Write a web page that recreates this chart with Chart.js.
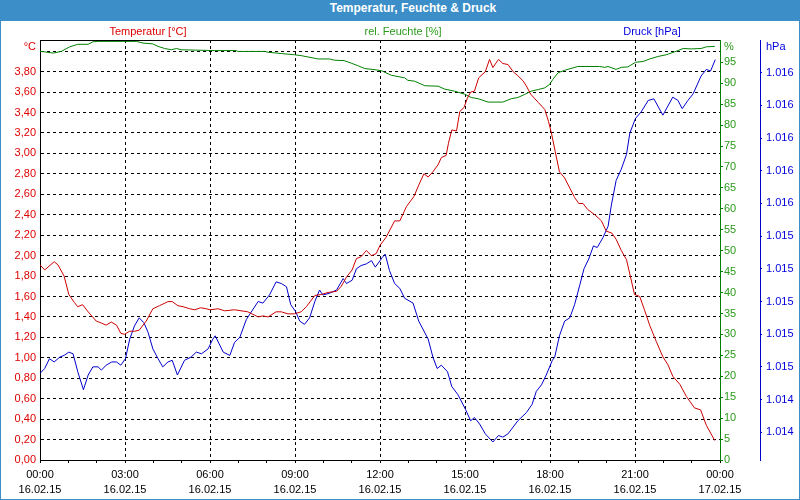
<!DOCTYPE html>
<html>
<head>
<meta charset="utf-8">
<script src="https://cdn.jsdelivr.net/npm/chart.js@4.4.1/dist/chart.umd.min.js"></script>
<style>
  body { margin: 0; background: #fff; }
  #wrap { position: relative; width: 800px; height: 500px; box-sizing: border-box; border: 1px solid #3b8ec8; }
  #title { height: 20px; line-height: 20px; background: #3b8ec8; color: #fff; font: bold 12px "Liberation Sans", Arial, sans-serif; text-align: center; padding-left: 26px; }
  .lbl { position: absolute; top: 24px; font: 11px "Liberation Sans", Arial, sans-serif; transform: translateX(-50%); white-space: nowrap; }
  canvas { display: block; }
</style>
</head>
<body>
<div id="wrap">
  <div id="title">Temperatur, Feuchte &amp; Druck</div>
  <div class="lbl" style="left:147px;color:#dd0000">Temperatur [°C]</div>
  <div class="lbl" style="left:402px;color:#2a9a1a">rel. Feuchte [%]</div>
  <div class="lbl" style="left:651px;color:#0000dd">Druck [hPa]</div>
  <canvas id="chart" width="798" height="478"></canvas>
</div>
<script>
// Zeit in Minuten ab 16.02.15 00:00
const tempTimes = [0,10,30,38,51,61,73,80,90,102,119,130,140,151,162,171,179,190,200,210,225,239,253,271,280,292,303,317,328,340,352,
  360,377,391,412,440,462,472,483,500,511,525,539,553,564,582,596,610,628,638,649,661,670,680,691,702,712,
  720,733,751,762,776,792,802,813,822,832,843,850,860,865,872,882,889,898,905,912,920,929,943,952,959,971,980,991,1002,1012,1023,1030,1039,1055,1069,1077,
  1083,1091,1100,1111,1122,1132,1141,1150,1160,1175,1189,1199,1211,1220,1231,1242,1251,1259,1270,1280,1291,1305,1319,1330,1340,1355,1369,1386,1399,1411,1429];
const tempValues = [1.91,1.86,1.94,1.91,1.80,1.62,1.54,1.50,1.52,1.45,1.36,1.34,1.32,1.35,1.32,1.24,1.23,1.26,1.26,1.27,1.36,1.48,1.51,1.55,1.55,1.51,1.50,1.48,1.47,1.49,1.48,
  1.47,1.48,1.46,1.47,1.45,1.40,1.41,1.40,1.45,1.45,1.43,1.43,1.45,1.50,1.61,1.62,1.64,1.65,1.70,1.79,1.86,1.97,1.99,2.05,2.00,2.02,
  2.10,2.18,2.34,2.34,2.48,2.58,2.69,2.80,2.77,2.82,2.89,2.96,2.98,3.10,3.23,3.22,3.41,3.45,3.54,3.60,3.61,3.74,3.80,3.92,3.84,3.92,3.88,3.87,3.80,3.76,3.71,3.66,3.58,3.50,3.43,3.31,
  3.20,3.02,2.82,2.76,2.66,2.57,2.51,2.51,2.45,2.40,2.34,2.24,2.22,2.16,2.05,1.96,1.78,1.62,1.60,1.47,1.32,1.16,1.01,0.93,0.82,0.74,0.62,0.51,0.49,0.34,0.19];

const humTimes = [0,10,28,45,63,80,102,112,123,204,218,239,250,264,278,289,299,370,416,419,476,483,511,539,553,589,613,624,644,659,673,688,705,723,
  744,772,779,793,815,843,857,878,899,913,928,949,980,998,1012,1026,1040,1055,1069,1079,1086,1097,1111,1139,1185,1196,1203,1220,1231,1245,1261,1277,1291,1309,1326,1344,1362,1379,1400,1411,1429];
const humValues = [97.6,97.5,97.2,97.6,98.7,99.3,99.3,99.9,100,100,99.6,99.4,98.8,98.3,98.0,98.3,98.0,97.8,97.8,97.6,97.6,97.4,97.1,96.8,96.6,95.8,95.8,95.5,95.4,94.8,94.2,93.5,93.3,93.0,
  91.9,91.3,90.7,90.5,89.4,89.3,88.6,88.1,87.4,86.6,86.3,85.5,85.5,86.3,86.6,87.3,88.1,88.5,88.9,89.7,90.9,92.5,93.1,94.0,94.0,93.8,94.0,93.3,93.8,93.9,95.0,95.2,95.8,96.4,96.8,97.5,98.3,98.2,98.3,98.7,98.8];

const presTimes = [0,10,20,30,42,51,61,70,80,92,102,112,123,130,140,152,162,171,181,190,200,210,220,229,239,250,260,271,280,291,306,320,331,342,356,
  366,371,388,402,412,423,437,462,472,486,500,511,522,531,541,550,560,571,582,592,599,613,628,642,649,661,670,680,691,702,710,
  725,731,740,751,762,772,790,802,822,832,841,850,863,872,885,901,912,920,931,943,959,971,980,991,1012,1030,1042,1051,1062,1072,
  1085,1090,1100,1111,1122,1132,1143,1152,1162,1172,1180,1192,1203,1210,1220,1231,1242,1249,1261,1273,1288,1300,1319,1340,1351,1360,1372,1383,1400,1411,1420,1430];
const presValues = [1014.56,1014.59,1014.65,1014.63,1014.66,1014.67,1014.69,1014.68,1014.57,1014.46,1014.55,1014.60,1014.60,1014.58,1014.61,1014.63,1014.63,1014.61,1014.65,1014.77,1014.85,1014.90,1014.87,1014.81,1014.71,1014.65,1014.60,1014.63,1014.64,1014.55,1014.64,1014.66,1014.69,1014.68,1014.71,
  1014.77,1014.79,1014.69,1014.67,1014.75,1014.78,1014.89,1015.00,1014.99,1015.04,1015.12,1015.11,1015.09,1014.98,1014.94,1014.88,1014.86,1014.90,1015.00,1015.07,1015.04,1015.05,1015.07,1015.14,1015.11,1015.13,1015.20,1015.22,1015.23,1015.25,1015.21,
  1015.27,1015.29,1015.19,1015.11,1015.08,1015.02,1014.99,1014.88,1014.77,1014.66,1014.59,1014.61,1014.57,1014.48,1014.43,1014.34,1014.27,1014.29,1014.25,1014.19,1014.14,1014.18,1014.17,1014.19,1014.27,1014.32,1014.37,1014.45,1014.49,1014.55,
  1014.64,1014.66,1014.79,1014.88,1014.90,1014.98,1015.10,1015.20,1015.26,1015.34,1015.33,1015.39,1015.46,1015.59,1015.74,1015.81,1015.90,1016.03,1016.12,1016.16,1016.23,1016.24,1016.14,1016.25,1016.23,1016.18,1016.23,1016.27,1016.38,1016.42,1016.41,1016.48];

// Achsen-Beschriftungen
const xTickTimes = ['00:00','03:00','06:00','09:00','12:00','15:00','18:00','21:00','00:00'];
const xTickDates = ['16.02.15','16.02.15','16.02.15','16.02.15','16.02.15','16.02.15','16.02.15','16.02.15','17.02.15'];
const tempTicks = [0,0.2,0.4,0.6,0.8,1.0,1.2,1.4,1.6,1.8,2.0,2.2,2.4,2.6,2.8,3.0,3.2,3.4,3.6,3.8,4.0];
const humTicks = [0,5,10,15,20,25,30,35,40,45,50,55,60,65,70,75,80,85,90,95];
const presTicks = [1014.2,1014.4,1014.6,1014.8,1015.0,1015.2,1015.4,1015.6,1015.8,1016.0,1016.2,1016.4];

// Position der Einheiten oben an den Achsen
const unitTemp = 4.045, unitHum = 98.66, unitPres = 1016.555;

const FONT = { family: '"Liberation Sans", Arial, sans-serif', size: 11 };
const RED = '#cc0000', GREEN = '#008000', BLUE = '#0000cc';
const NONE = 'rgba(0,0,0,0)';

function toPoints(times, values) {
  return times.map((t, i) => ({ x: t, y: values[i] }));
}

function formatTemp(v) {
  if (v === unitTemp) return '°C';
  if (v > 3.99) return '';   // oberste Linie ohne Zahl
  return v.toFixed(2).replace('.', ',');
}

function formatDruck(v) {
  const s = String(Math.round(v));
  return s.slice(0, 1) + '.' + s.slice(1);
}

const frameTop = {
  id: 'frameTop',
  afterDraw(chart) {
    const { ctx, chartArea } = chart;
    ctx.save();
    ctx.strokeStyle = '#000';
    ctx.lineWidth = 1;
    ctx.beginPath();
    ctx.moveTo(chartArea.left, chartArea.top + 0.5);
    ctx.lineTo(chartArea.right, chartArea.top + 0.5);
    ctx.stroke();
    ctx.restore();
  }
};

new Chart(document.getElementById('chart'), {
  type: 'line',
  data: {
    datasets: [
      { label: 'Temperatur [°C]', data: toPoints(tempTimes, tempValues), yAxisID: 'yT', borderColor: RED, borderWidth: 1, pointRadius: 0, tension: 0 },
      { label: 'rel. Feuchte [%]', data: toPoints(humTimes, humValues), yAxisID: 'yH', borderColor: GREEN, borderWidth: 1, pointRadius: 0, tension: 0 },
      { label: 'Druck [hPa]', data: toPoints(presTimes, presValues), yAxisID: 'yP', borderColor: BLUE, borderWidth: 1, pointRadius: 0, tension: 0 }
    ]
  },
  options: {
    responsive: false,
    animation: false,
    devicePixelRatio: 1,
    layout: { padding: { top: 19, left: 0, right: 0, bottom: 0 } },
    plugins: { legend: { display: false }, tooltip: { enabled: false } },
    scales: {
      x: {
        type: 'linear',
        min: 0,
        max: 1440,
        afterFit: s => { s.height = 39; },
        ticks: {
          stepSize: 60,
          autoSkip: false,
          maxRotation: 0,
          padding: 4,
          color: '#000',
          font: { ...FONT, lineHeight: '15px' },
          callback: v => (v % 180 === 0 ? [xTickTimes[v / 180], xTickDates[v / 180]] : '')
        },
        grid: {
          color: c => (c.tick && c.tick.value % 180 === 0 && c.tick.value > 0 && c.tick.value < 1440 ? '#000' : NONE),
          tickColor: '#000',
          tickLength: 3
        },
        border: { color: '#000', dash: [3, 3] }
      },
      yT: {
        position: 'left',
        min: 0,
        max: 4.11,
        afterFit: s => { s.width = 39; },
        afterBuildTicks: s => { s.ticks = tempTicks.concat([unitTemp]).map(v => ({ value: v })); },
        ticks: {
          autoSkip: false,
          color: '#dd0000',
          font: FONT,
          padding: 4,
          callback: formatTemp
        },
        grid: {
          drawTicks: false,
          color: c => (c.tick && c.tick.value > 4.01 ? NONE : '#000')
        },
        border: { color: '#000', dash: [3, 3] }
      },
      yH: {
        position: 'right',
        min: 0,
        max: 100.33,
        afterFit: s => { s.width = 40; },
        afterBuildTicks: s => { s.ticks = humTicks.concat([unitHum]).map(v => ({ value: v })); },
        ticks: {
          autoSkip: false,
          color: '#2a9a1a',
          font: FONT,
          padding: 1,
          callback: v => (v === unitHum ? '%' : String(v))
        },
        grid: {
          drawOnChartArea: false,
          tickLength: 3,
          color: GREEN,
          tickColor: c => (c.tick && c.tick.value === unitHum ? NONE : GREEN)
        },
        border: { color: GREEN }
      },
      yP: {
        position: 'right',
        min: 1014.03,
        max: 1016.6,
        afterFit: s => { s.width = 39; },
        afterBuildTicks: s => { s.ticks = presTicks.concat([unitPres]).map(v => ({ value: v })); },
        ticks: {
          autoSkip: false,
          color: '#0000dd',
          font: FONT,
          padding: 4,
          callback: v => (v === unitPres ? 'hPa' : formatDruck(v))
        },
        grid: {
          drawOnChartArea: false,
          tickLength: 2,
          color: BLUE,
          tickColor: c => (c.tick && c.tick.value === unitPres ? NONE : BLUE)
        },
        border: { color: BLUE }
      }
    }
  },
  plugins: [frameTop]
});
</script>
</body>
</html>
